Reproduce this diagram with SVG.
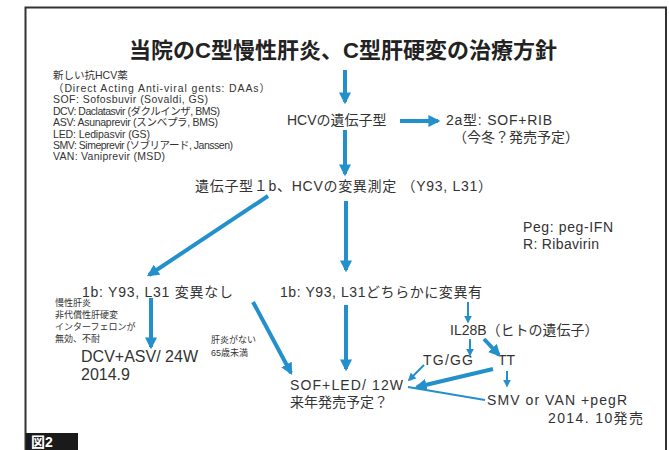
<svg xmlns="http://www.w3.org/2000/svg" width="669" height="450" viewBox="0 0 669 450">
<style>
text{font-family:'Liberation Sans','Noto Sans CJK JP',sans-serif;fill:#333}
.t{font-size:22px;font-weight:bold;fill:#222}
.m{font-size:14px}
.l{font-size:16px}
.s{font-size:10.5px}
.xs{font-size:9px}
.a{stroke:#2390cc;stroke-width:4;fill:none}
.b{stroke:#2390cc;stroke-width:2;fill:none}
</style>
<defs>
<marker id="h" viewBox="0 0 10 10" refX="8" refY="5" markerWidth="3" markerHeight="3" orient="auto" markerUnits="strokeWidth"><path d="M0,0L10,5L0,10z" fill="#2390cc"/></marker>
<marker id="hs" viewBox="0 0 10 10" refX="8" refY="5" markerWidth="4" markerHeight="4" orient="auto" markerUnits="strokeWidth"><path d="M0,0L10,5L0,10z" fill="#2390cc"/></marker>
</defs>
<rect x="0" y="0" width="669" height="450" fill="#fff"/>
<path d="M25.5,450V7.5H666V450" fill="none" stroke="#333" stroke-width="2"/>
<g id="fig"><rect x="26" y="433" width="52" height="17" fill="#1a1a1a"/><text x="31" y="447" style="font-size:14px;font-weight:bold;fill:#fff">図2</text></g>
<g id="title"><text class="t" x="343" y="58" text-anchor="middle">当院のC型慢性肝炎、C型肝硬変の治療方針</text></g>
<g id="legend">
<text class="s" x="53" y="79">新しい抗HCV薬</text>
<text class="s" x="53" y="92" textLength="217" lengthAdjust="spacing">（Direct Acting Anti-viral gents: DAAs）</text>
<text class="s" x="53" y="103" textLength="155" lengthAdjust="spacing">SOF: Sofosbuvir (Sovaldi, GS)</text>
<text class="s" x="53" y="115" textLength="167" lengthAdjust="spacing">DCV: Daclatasvir (ダクルインザ, BMS)</text>
<text class="s" x="53" y="126" textLength="165" lengthAdjust="spacing">ASV: Asunaprevir (スンベプラ, BMS)</text>
<text class="s" x="53" y="138" textLength="97" lengthAdjust="spacing">LED: Ledipasvir (GS)</text>
<text class="s" x="53" y="149" textLength="180" lengthAdjust="spacing">SMV: Simeprevir (ソブリアード, Janssen)</text>
<text class="s" x="53" y="160" textLength="112" lengthAdjust="spacing">VAN: Vaniprevir (MSD)</text>
</g>
<g id="genotype"><text class="m" x="287" y="125">HCVの遺伝子型</text></g>
<g id="type2a"><text class="m" x="446" y="125" textLength="106" lengthAdjust="spacing">2a型: SOF+RIB</text><text class="m" x="453" y="142">（今冬？発売予定）</text></g>
<g id="mutation"><text class="m" x="195" y="191" textLength="297" lengthAdjust="spacing">遺伝子型１b、HCVの変異測定 （Y93, L31）</text></g>
<g id="abbr"><text class="m" x="523" y="232" textLength="90" lengthAdjust="spacing">Peg: peg-IFN</text><text class="m" x="523" y="249" textLength="76" lengthAdjust="spacing">R: Ribavirin</text></g>
<g id="nomut"><text class="m" x="82" y="297" textLength="151" lengthAdjust="spacing">1b: Y93, L31 変異なし</text></g>
<g id="mut"><text class="m" x="280" y="297" textLength="202" lengthAdjust="spacing">1b: Y93, L31どちらかに変異有</text></g>
<g id="cond1"><text class="xs" x="55" y="306">慢性肝炎</text><text class="xs" x="55" y="318">非代償性肝硬変</text><text class="xs" x="55" y="330">インターフェロンが</text><text class="xs" x="55" y="342">無効、不耐</text></g>
<g id="cond2"><text class="xs" x="211" y="343">肝炎がない</text><text class="xs" x="211" y="356">65歳未満</text></g>
<g id="dcv"><text class="l" x="81" y="362" textLength="117" lengthAdjust="spacing">DCV+ASV/ 24W</text><text class="l" x="81" y="380">2014.9</text></g>
<g id="il28b"><text class="m" x="450" y="335">IL28B（ヒトの遺伝子）</text></g>
<g id="tggg"><text class="m" x="423" y="365" textLength="50" lengthAdjust="spacing">TG/GG</text></g>
<g id="tt"><text class="m" x="498" y="365">TT</text></g>
<g id="sof"><text class="m" x="290" y="390" textLength="113" lengthAdjust="spacing">SOF+LED/ 12W</text><text class="m" x="290" y="407">来年発売予定？</text></g>
<g id="smv"><text class="m" x="487" y="405" textLength="140" lengthAdjust="spacing">SMV or VAN +pegR</text><text class="m" x="548" y="423" textLength="95" lengthAdjust="spacing">2014. 10発売</text></g>
<g id="connectors">
<line class="a" x1="345" y1="70" x2="345" y2="102" marker-end="url(#h)"/>
<line class="a" x1="400" y1="121" x2="438" y2="121" marker-end="url(#h)"/>
<line class="a" x1="345" y1="130" x2="345" y2="174" marker-end="url(#h)"/>
<line class="a" x1="268" y1="196" x2="149" y2="275" marker-end="url(#h)"/>
<line class="a" x1="346" y1="201" x2="346" y2="270" marker-end="url(#h)"/>
<line class="a" x1="151" y1="298" x2="151" y2="347" marker-end="url(#h)"/>
<line class="a" x1="253" y1="302" x2="291" y2="373" marker-end="url(#h)"/>
<line class="a" x1="346" y1="305" x2="346" y2="369" marker-end="url(#h)"/>
<line class="b" x1="468" y1="302" x2="468" y2="322" marker-end="url(#hs)"/>
<line class="b" x1="470" y1="339" x2="470" y2="355" marker-end="url(#hs)"/>
<line class="a" x1="484" y1="339" x2="499" y2="355" stroke-width="3" marker-end="url(#h)"/>
<line class="b" x1="424" y1="365" x2="409" y2="380" marker-end="url(#hs)"/>
<line class="a" x1="493" y1="369" x2="417" y2="387" marker-end="url(#h)"/>
<line class="b" x1="507" y1="371" x2="507" y2="386" stroke-width="1.5" marker-end="url(#hs)"/>
<line class="b" x1="408" y1="387" x2="485" y2="400"/>
</g>
</svg>
